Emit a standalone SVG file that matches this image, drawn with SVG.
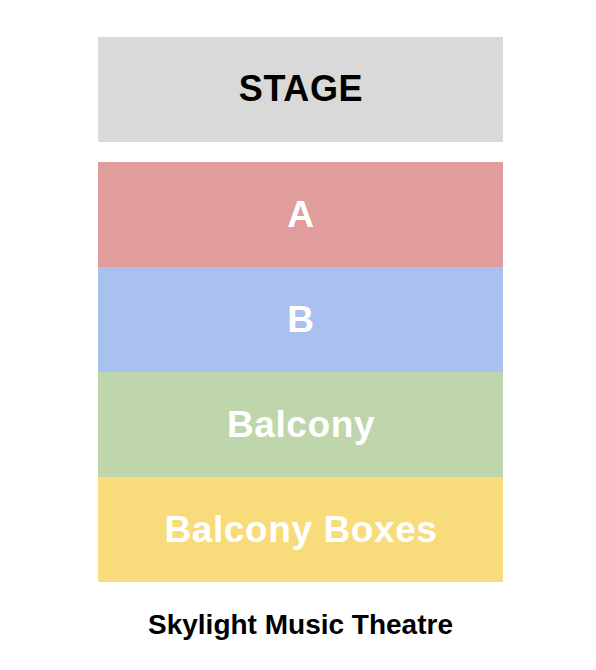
<svg xmlns="http://www.w3.org/2000/svg" width="596" height="670" viewBox="0 0 596 670">
<style>
.lbl{font-family:"Liberation Sans",Arial,sans-serif;font-weight:bold;font-size:37px;letter-spacing:0.6px;text-anchor:middle;fill:#fff}
.stage{fill:#000;font-size:36px}
.title{font-family:"Liberation Sans",Arial,sans-serif;font-weight:bold;font-size:28px;text-anchor:middle;fill:#000}
</style>
<rect width="596" height="670" fill="#fff"/>
<g id="stage"><rect x="98" y="37" width="405" height="105" fill="#d9d9d9"/><text class="lbl stage" x="301" y="101">STAGE</text></g>
<g id="sec-a"><rect x="98" y="162" width="405" height="105" fill="#e09d9b"/><text class="lbl" x="301" y="227">A</text></g>
<g id="sec-b"><rect x="98" y="267" width="405" height="105" fill="#a9c1ef"/><text class="lbl" x="301" y="332">B</text></g>
<g id="sec-balcony"><rect x="98" y="372" width="405" height="105" fill="#bfd6ad"/><text class="lbl" x="301" y="437">Balcony</text></g>
<g id="sec-boxes"><rect x="98" y="477" width="405" height="105" fill="#f8db7a"/><text class="lbl" x="301" y="542">Balcony Boxes</text></g>
<g id="connectors"/>
<text class="title" x="300.5" y="634">Skylight Music Theatre</text>
</svg>
